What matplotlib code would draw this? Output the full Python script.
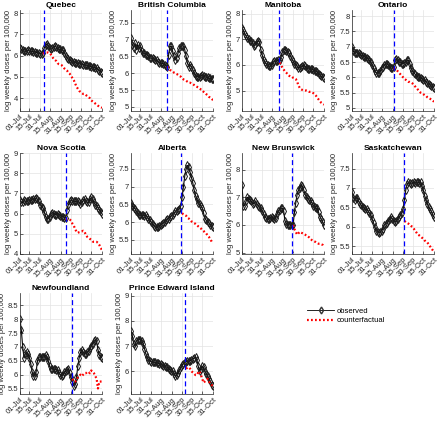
import numpy as np
import matplotlib.pyplot as plt
from matplotlib.ticker import MultipleLocator, FormatStrFormatter
from matplotlib.lines import Line2D

plt.rcParams['font.family'] = ['Liberation Sans', 'DejaVu Sans']

provinces = ["Quebec", "British Columbia", "Manitoba", "Ontario",
             "Nova Scotia", "Alberta", "New Brunswick", "Saskatchewan",
             "Newfoundland", "Prince Edward Island"]

# observed log weekly doses, every 2nd day from 01-Jul to 31-Oct 2021
obs = {
    "Quebec": [6.38, 6.3, 6.25, 6.22, 6.2, 6.22, 6.25, 6.22, 6.2, 6.2, 6.18, 6.18, 6.15, 6.15, 6.12, 6.1,
               6.1, 6.15, 6.35, 6.5, 6.55, 6.45, 6.35, 6.3, 6.35, 6.42, 6.45, 6.4, 6.35, 6.3, 6.3,
               6.28, 6.25, 6.15, 6.0, 5.9, 5.85, 5.8, 5.75, 5.7, 5.7, 5.68, 5.65, 5.65, 5.62, 5.62,
               5.6, 5.58, 5.58, 5.55, 5.55, 5.52, 5.5, 5.48, 5.47, 5.45, 5.42, 5.4, 5.35, 5.3, 5.25, 5.2],
    "British Columbia": [7.05, 6.85, 6.75, 6.9, 6.7, 6.85, 6.75, 6.8, 6.65, 6.6, 6.6, 6.55, 6.55, 6.5, 6.45, 6.45,
                         6.45, 6.42, 6.4, 6.38, 6.35, 6.32, 6.3, 6.3, 6.28, 6.25, 6.22, 6.2, 6.55, 6.8, 6.8,
                         6.65, 6.5, 6.4, 6.45, 6.6, 6.75, 6.8, 6.82, 6.8, 6.7, 6.5, 6.3, 6.2, 6.25, 6.2,
                         6.1, 6.0, 5.92, 5.9, 5.9, 5.9, 5.92, 5.95, 5.92, 5.9, 5.88, 5.88, 5.85, 5.85, 5.83, 5.82],
    "Manitoba": [7.45, 7.35, 7.2, 7.15, 7.05, 7.0, 6.95, 6.95, 6.85, 6.75, 6.8, 6.9, 6.95, 6.9, 6.6, 6.4,
                 6.2, 6.1, 6.05, 6.0, 5.95, 5.95, 6.0, 6.1, 6.15, 6.15, 6.15, 6.2, 6.2, 6.3, 6.5,
                 6.6, 6.6, 6.55, 6.5, 6.45, 6.35, 6.25, 6.15, 6.05, 6.0, 5.95, 5.9, 5.9, 5.92, 5.95,
                 6.0, 5.95, 5.88, 5.85, 5.85, 5.85, 5.85, 5.8, 5.78, 5.75, 5.72, 5.65, 5.6, 5.55, 5.52, 5.5],
    "Ontario": [7.0, 6.85, 6.8, 6.8, 6.8, 6.78, 6.75, 6.72, 6.7, 6.68, 6.65, 6.62, 6.6, 6.55, 6.5, 6.4,
                6.3, 6.2, 6.15, 6.15, 6.15, 6.2, 6.3, 6.35, 6.4, 6.42, 6.45, 6.4, 6.35, 6.3, 6.3,
                6.35, 6.55, 6.6, 6.55, 6.5, 6.5, 6.45, 6.45, 6.48, 6.5, 6.55, 6.55, 6.45, 6.3, 6.2,
                6.15, 6.1, 6.05, 6.02, 6.0, 5.98, 5.95, 5.92, 5.9, 5.85, 5.82, 5.78, 5.75, 5.72, 5.68, 5.65],
    "Nova Scotia": [6.65, 6.55, 6.55, 6.65, 6.6, 6.6, 6.62, 6.65, 6.65, 6.68, 6.7, 6.72, 6.75, 6.7, 6.6, 6.45,
                    6.35, 6.3, 6.1, 5.85, 5.75, 5.75, 5.85, 6.0, 6.05, 6.0, 5.95, 5.95, 6.0, 5.95, 5.9,
                    5.85, 5.85, 5.8, 5.8, 6.2, 6.45, 6.6, 6.65, 6.62, 6.6, 6.6, 6.62, 6.6, 6.55, 6.5,
                    6.55, 6.65, 6.7, 6.6, 6.55, 6.55, 6.7, 6.8, 6.7, 6.55, 6.45, 6.4, 6.3, 6.2, 6.1, 6.0],
    "Alberta": [6.55, 6.45, 6.4, 6.38, 6.3, 6.25, 6.2, 6.2, 6.2, 6.2, 6.18, 6.2, 6.15, 6.1, 6.05, 6.0,
                5.95, 5.9, 5.87, 5.85, 5.85, 5.88, 5.92, 5.95, 5.98, 6.0, 6.05, 6.08, 6.1, 6.15, 6.18,
                6.2, 6.25, 6.3, 6.32, 6.35, 6.38, 6.45, 6.7, 7.0, 7.3, 7.5, 7.6, 7.55, 7.4, 7.25,
                7.1, 6.9, 6.75, 6.65, 6.55, 6.5, 6.45, 6.4, 6.25, 6.1, 6.05, 6.0, 5.97, 5.93, 5.88, 5.85],
    "New Brunswick": [7.45, 6.7, 6.7, 6.85, 7.0, 6.95, 6.9, 6.85, 6.75, 6.8, 6.85, 6.75, 6.7, 6.65, 6.6, 6.5,
                      6.4, 6.3, 6.25, 6.22, 6.2, 6.25, 6.3, 6.25, 6.2, 6.25, 6.4, 6.5, 6.55, 6.6, 6.6,
                      6.5, 6.15, 6.05, 6.0, 6.0, 6.0, 6.0, 6.0, 6.45, 6.8, 7.1, 7.25, 7.35, 7.45, 7.4,
                      7.25, 7.1, 7.0, 6.95, 6.9, 6.88, 6.8, 6.7, 6.65, 6.6, 6.6, 6.45, 6.3, 6.2, 6.1, 6.0],
    "Saskatchewan": [6.9, 6.75, 6.7, 6.75, 6.75, 6.65, 6.6, 6.55, 6.5, 6.48, 6.45, 6.45, 6.4, 6.35, 6.3, 6.2,
                     6.1, 6.0, 5.9, 5.87, 5.85, 5.87, 5.9, 5.95, 6.05, 6.08, 6.1, 6.15, 6.2, 6.25, 6.2,
                     6.15, 6.12, 6.15, 6.2, 6.25, 6.3, 6.35, 6.45, 6.7, 6.95, 7.1, 7.15, 7.12, 7.1, 7.12,
                     7.15, 7.12, 7.15, 7.15, 7.12, 7.15, 7.05, 6.95, 6.8, 6.7, 6.6, 6.5, 6.45, 6.4, 6.3, 6.25],
    "Newfoundland": [8.0, 7.6, 7.0, 6.6, 6.75, 6.8, 6.75, 6.6, 6.4, 6.1, 5.95, 5.95, 6.1, 6.5, 6.62, 6.65,
                     6.65, 6.62, 6.65, 6.7, 6.65, 6.5, 6.3, 6.22, 6.22, 6.2, 6.2, 6.18, 6.15, 6.05, 6.0,
                     5.95, 6.0, 6.08, 6.12, 6.15, 6.2, 6.05, 5.9, 5.75, 5.6, 5.65, 5.9, 6.3, 6.6, 6.8,
                     6.9, 6.8, 6.75, 6.75, 6.8, 6.85, 6.95, 7.05, 7.12, 7.2, 7.25, 7.2, 6.9, 6.7, 6.65, 6.6],
    "Prince Edward Island": [7.6, 7.4, 7.1, 7.0, 7.2, 7.25, 7.25, 7.25, 7.2, 7.1, 6.9, 6.7, 6.55, 6.45, 6.4, 6.38,
                             6.37, 6.36, 6.35, 6.33, 6.32, 6.3, 6.28, 6.25, 6.22, 6.2, 6.18, 6.15, 6.1, 6.05, 6.0,
                             6.0, 5.9, 5.8, 5.85, 5.95, 6.05, 6.15, 6.25, 6.3, 6.35, 6.38, 6.4, 6.4, 6.42, 6.45,
                             6.5, 6.52, 6.55, 6.45, 6.2, 6.0, 6.1, 6.2, 6.15, 6.0, 5.9, 5.8, 5.7, 5.6, 5.45, 5.4],
}

# counterfactual, every 2nd day from cf_start to 31-Oct
cf_start = {"Quebec": "2021-08-04", "British Columbia": "2021-08-24", "Manitoba": "2021-08-26",
            "Ontario": "2021-09-01", "Nova Scotia": "2021-09-07", "Alberta": "2021-09-15",
            "New Brunswick": "2021-09-15", "Saskatchewan": "2021-09-17", "Newfoundland": "2021-09-17",
            "Prince Edward Island": "2021-09-21"}
cf = {
    "Quebec": [6.1, 6.12, 6.15, 6.15, 6.15, 6.12, 6.05, 5.95, 5.85, 5.8, 5.75, 5.65, 5.6, 5.58,
               5.55, 5.5, 5.4, 5.35, 5.3, 5.2, 5.15, 5.05, 4.95, 4.85, 4.7, 4.55, 4.45, 4.35, 4.3,
               4.25, 4.2, 4.2, 4.15, 4.1, 4.05, 4.0, 3.9, 3.85, 3.8, 3.75, 3.7, 3.65, 3.6, 3.58, 3.55],
    "British Columbia": [6.2, 6.15, 6.1, 6.08,
                         6.05, 6.02, 6.0, 5.98, 5.95, 5.92, 5.9, 5.85, 5.82, 5.8, 5.78, 5.75, 5.72, 5.72, 5.7,
                         5.68, 5.65, 5.62, 5.6, 5.58, 5.55, 5.52, 5.5, 5.45, 5.42, 5.38, 5.35, 5.3, 5.28, 5.25, 5.2],
    "Manitoba": [6.1, 6.0, 5.9,
                 5.82, 5.75, 5.7, 5.62, 5.58, 5.55, 5.55, 5.5, 5.48, 5.45, 5.35, 5.2, 5.1, 5.05, 5.02,
                 5.0, 5.0, 5.0, 4.98, 4.95, 4.95, 4.92, 4.9, 4.85, 4.8, 4.72, 4.65, 4.58, 4.52, 4.48, 4.45],
    "Ontario": [6.3, 6.28, 6.25, 6.2, 6.15, 6.1, 6.05, 6.0, 5.95, 5.92, 5.88, 5.85, 5.85, 5.83, 5.8,
                5.75, 5.7, 5.65, 5.6, 5.55, 5.5, 5.48, 5.45, 5.42, 5.4, 5.35, 5.32, 5.3, 5.28, 5.25, 5.2],
    "Nova Scotia": [5.75, 5.72, 5.72, 5.7, 5.65, 5.5, 5.4, 5.25, 5.1, 5.05, 5.08, 5.1,
                    5.12, 5.15, 5.1, 4.95, 4.85, 4.8, 4.75, 4.7, 4.62, 4.6, 4.6, 4.6, 4.55, 4.45, 4.3, 4.2],
    "Alberta": [6.25, 6.22, 6.2, 6.18, 6.12, 6.1, 6.07, 6.02,
                6.0, 5.97, 5.95, 5.92, 5.88, 5.85, 5.82, 5.78, 5.75, 5.7, 5.68, 5.62, 5.58, 5.52, 5.45, 5.4],
    "New Brunswick": [6.0, 5.85, 5.75, 5.65, 5.7, 5.75, 5.72, 5.7,
                      5.68, 5.65, 5.6, 5.58, 5.55, 5.5, 5.45, 5.42, 5.4, 5.38, 5.35, 5.32, 5.32, 5.3, 5.28, 5.2],
    "Saskatchewan": [6.15, 6.12, 6.1, 6.08, 6.05, 6.02, 6.0,
                     5.95, 5.9, 5.85, 5.8, 5.78, 5.75, 5.72, 5.7, 5.65, 5.62, 5.6, 5.55, 5.5, 5.45, 5.4, 5.35],
    "Newfoundland": [5.85, 5.75, 5.75, 5.8, 5.9, 5.95, 6.0,
                     5.95, 6.0, 6.05, 6.05, 6.1, 6.1, 6.05, 6.15, 6.1, 6.05, 5.95, 5.85, 5.5, 5.75, 5.75, 5.75],
    "Prince Edward Island": [6.1, 6.15, 6.15, 6.1, 6.0,
                             5.95, 5.9, 5.85, 5.85, 5.95, 6.0, 5.85, 5.7, 5.55, 5.6, 5.65, 5.7, 5.6, 5.5, 5.45, 5.45],
}

policy_date = {"Quebec": "2021-08-05", "British Columbia": "2021-08-24", "Manitoba": "2021-08-25",
               "Ontario": "2021-09-01", "Nova Scotia": "2021-09-07", "Alberta": "2021-09-14",
               "New Brunswick": "2021-09-14", "Saskatchewan": "2021-09-16", "Newfoundland": "2021-09-17",
               "Prince Edward Island": "2021-09-20"}

ylims = {"Quebec": (3.4, 8.15), "British Columbia": (4.88, 7.88), "Manitoba": (4.2, 8.15),
         "Ontario": (4.9, 8.2), "Nova Scotia": (4.0, 9.0), "Alberta": (5.1, 7.95),
         "New Brunswick": (4.95, 8.6), "Saskatchewan": (5.3, 7.9), "Newfoundland": (5.3, 8.95),
         "Prince Edward Island": (5.1, 9.1)}
ystep = {"Quebec": 1, "British Columbia": 0.5, "Manitoba": 1, "Ontario": 0.5, "Nova Scotia": 1,
         "Alberta": 0.5, "New Brunswick": 1, "Saskatchewan": 0.5, "Newfoundland": 0.5,
         "Prince Edward Island": 1}

xtick_dates = ["2021-07-01", "2021-07-15", "2021-07-31", "2021-08-15", "2021-08-31",
               "2021-09-15", "2021-09-30", "2021-10-15", "2021-10-31"]
xtick_labels = ["01-Jul", "15-Jul", "31-Jul", "15-Aug", "31-Aug", "15-Sep", "30-Sep", "15-Oct", "31-Oct"]

fig = plt.figure(figsize=(4.4, 4.21), dpi=100)

col_left = [20, 131, 242, 352]
row_top = [10, 153, 293]
W, H = 82, 101
start = np.datetime64("2021-07-01")

def dt(d):
    return np.datetime64(d, "D").astype(object)

for k, name in enumerate(provinces):
    r, c = divmod(k, 4)
    ax = fig.add_axes([col_left[c] / 440, 1 - (row_top[r] + H) / 421, W / 440, H / 421])

    d_obs = (start + 2 * np.arange(len(obs[name]))).astype(object)
    ax.plot(d_obs, obs[name], color="k", lw=0.8,
            marker="d", ms=4.2, mfc="none", mec="#1a1a1a", mew=0.7)
    d_cf = (np.datetime64(cf_start[name]) + 2 * np.arange(len(cf[name]))).astype(object)
    ax.plot(d_cf, cf[name], color="red", lw=1.6, linestyle=(0, (0.8, 1.0)),
            dash_capstyle="butt")
    ax.axvline(dt(policy_date[name]), color="blue", lw=0.9, linestyle=(0, (4, 2.5)))

    ax.set_xlim(dt("2021-07-01"), dt("2021-10-31"))
    ax.set_ylim(*ylims[name])
    ax.set_xticks([dt(d) for d in xtick_dates])
    ax.set_xticklabels(xtick_labels, rotation=45, ha="right", rotation_mode="anchor")
    ax.yaxis.set_major_locator(MultipleLocator(ystep[name]))
    ax.yaxis.set_major_formatter(FormatStrFormatter("%g"))
    ax.tick_params(labelsize=5.5, length=2, width=0.5, direction="in", colors="#262626", pad=1.5)
    ax.grid(True, color="#e3e3e3", lw=0.5)
    ax.set_axisbelow(True)
    for s in ["top", "right"]:
        ax.spines[s].set_visible(False)
    for s in ["left", "bottom"]:
        ax.spines[s].set_color("#262626")
        ax.spines[s].set_linewidth(0.5)
    ax.set_ylabel("log weekly doses per 100,000", fontsize=5.5, color="#262626", labelpad=1)
    ax.set_title(name, fontsize=6, fontweight="bold", pad=2)

handles = [Line2D([], [], color="k", lw=0.6, marker="d", ms=3.5, mfc="none", mec="#333333"),
           Line2D([], [], color="red", lw=1.6, linestyle=(0, (0.8, 1.0)), dash_capstyle="butt")]
fig.legend(handles, ["observed", "counterfactual"], loc="upper left",
           bbox_to_anchor=(302 / 440, 1 - 302 / 421), frameon=False, fontsize=5.5,
           handlelength=3.5, handletextpad=0.3, labelspacing=0.3, numpoints=1, borderpad=0.2)

fig.savefig("out.png", dpi=100)
